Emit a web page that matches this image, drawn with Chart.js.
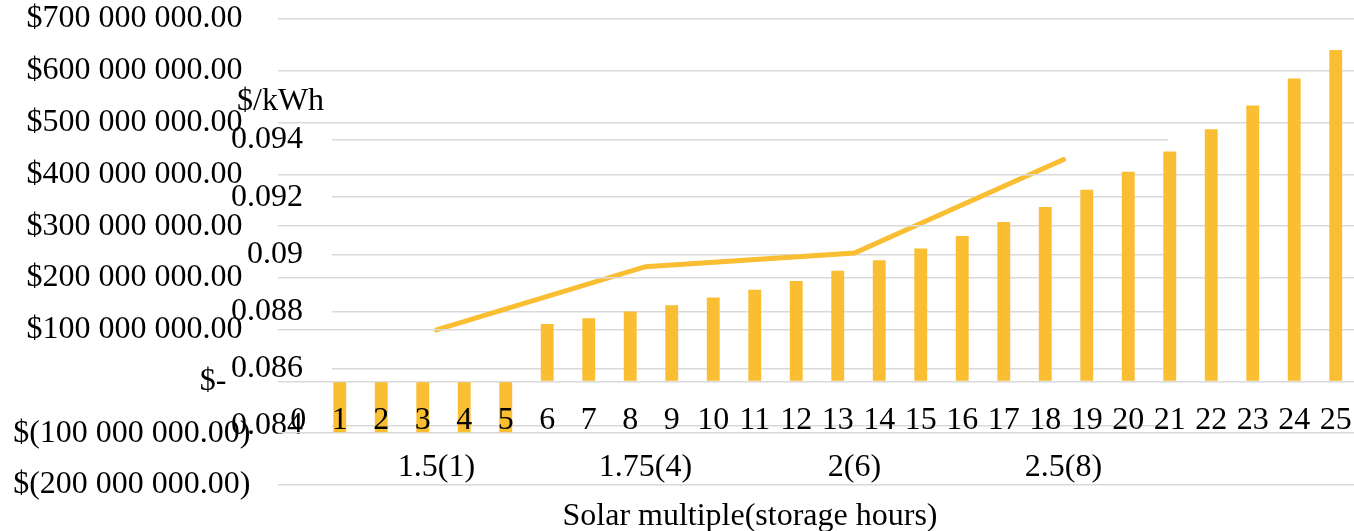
<!DOCTYPE html>
<html>
<head>
<meta charset="utf-8">
<title>Solar multiple chart</title>
<script src="https://cdn.jsdelivr.net/npm/chart.js@4.4.1/dist/chart.umd.min.js"></script>
<style>
  html, body { margin: 0; padding: 0; background: #ffffff; overflow: hidden; }
  #wrap { position: relative; width: 1354px; height: 531px; overflow: hidden; }
  #wrap canvas { position: absolute; left: 0; top: 0; }
</style>
</head>
<body>
<div id="wrap">
  <canvas id="lcoeChart" width="1354" height="540"></canvas>
  <canvas id="costChart" width="1360" height="531"></canvas>
</div>
<script>
// bar chart data (cost, $)
const caseLabels = ['0','1','2','3','4','5','6','7','8','9','10','11','12','13','14','15','16','17','18','19','20','21','22','23','24','25'];
const costValues = [null, -98e6, -98e6, -98e6, -98e6, -98e6,
  111e6, 122e6, 135e6, 147e6, 162e6, 177e6, 194e6, 214e6, 234e6, 257e6,
  281e6, 308e6, 337e6, 370e6, 405e6, 444e6, 487e6, 533e6, 585e6, 640e6];

// line chart data ($/kWh)
const smLabels = ['1.5(1)', '1.75(4)', '2(6)', '2.5(8)'];
const lcoeValues = [0.08736, 0.08957, 0.09005, 0.09332];

const gold = '#f9be32';
const gridGray = '#d9d9d9';
const serif = "'Liberation Serif', 'Times New Roman', serif";
const fontSize = 32;

// $700 000 000.00 / $- / $(100 000 000.00)
function money(v) {
  if (v === 0) return '$-   ';
  let s = Math.abs(v).toFixed(2).split('.');
  let intPart = s[0].replace(/\B(?=(\d{3})+(?!\d))/g, ' ');
  if (v < 0) return '$(' + intPart + '.' + s[1] + ')';
  return '$' + intPart + '.' + s[1] + ' ';
}

// chart.js adds label overflow + tick padding around the plot, we place it ourselves
function noScalePadding(scale) {
  scale.paddingTop = 0;
  scale.paddingBottom = 0;
  scale.paddingLeft = 0;
  scale.paddingRight = 0;
}

// "$/kWh" written above the second value axis
const unitLabel = {
  id: 'unitLabel',
  afterDraw(chart) {
    const ctx = chart.ctx;
    ctx.save();
    ctx.font = fontSize + 'px ' + serif;
    ctx.fillStyle = '#000';
    ctx.textAlign = 'left';
    ctx.textBaseline = 'middle';
    ctx.fillText('$/kWh', chart.chartArea.left - 95, chart.chartArea.top - 38);
    ctx.restore();
  }
};

Chart.defaults.font.family = serif;
Chart.defaults.font.size = fontSize;
Chart.defaults.color = '#000';

// back layer: levelized cost line
new Chart(document.getElementById('lcoeChart'), {
  type: 'line',
  data: {
    labels: smLabels,
    datasets: [{
      data: lcoeValues,
      borderColor: gold,
      borderWidth: 5,
      borderCapStyle: 'round',
      pointRadius: 0,
      tension: 0
    }]
  },
  options: {
    responsive: false,
    animation: false,
    devicePixelRatio: 1,
    layout: { padding: { top: 140, right: 186, bottom: 0, left: 0 } },
    plugins: { legend: { display: false }, tooltip: { enabled: false } },
    scales: {
      x: {
        offset: true,
        grid: { display: false },
        border: { display: false },
        ticks: { padding: 14, maxRotation: 0, autoSkip: false },
        title: { display: true, text: 'Solar multiple(storage hours)', padding: { top: 0, bottom: 4 } },
        afterFit(scale) { scale.height = 114; noScalePadding(scale); }
      },
      y: {
        min: 0.084,
        max: 0.094,
        ticks: {
          stepSize: 0.002,
          padding: 29,
          callback: v => String(Number(v.toFixed(3)))
        },
        grid: { color: gridGray, lineWidth: 1.5, drawTicks: false },
        border: { display: false },
        afterFit(scale) { scale.width = 332; noScalePadding(scale); }
      }
    }
  },
  plugins: [unitLabel]
});

// front layer: cost bars
new Chart(document.getElementById('costChart'), {
  type: 'bar',
  data: {
    labels: caseLabels,
    datasets: [{
      data: costValues,
      backgroundColor: gold,
      barPercentage: 0.31,
      categoryPercentage: 1
    }]
  },
  options: {
    responsive: false,
    animation: false,
    devicePixelRatio: 1,
    layout: { padding: { top: 19, right: 3.5, bottom: 46, left: 0 } },
    plugins: { legend: { display: false }, tooltip: { enabled: false } },
    scales: {
      x: {
        position: { y: 0 },
        grid: { display: false },
        border: { display: false },
        // z: 1 -> case numbers drawn on top of the negative bars
        ticks: { z: 1, padding: 12, maxRotation: 0, minRotation: 0, autoSkip: false },
        afterFit(scale) { noScalePadding(scale); }
      },
      y: {
        min: -200e6,
        max: 700e6,
        ticks: { stepSize: 100e6, padding: 27, callback: v => money(v) },
        grid: { color: gridGray, lineWidth: 1.5, drawTicks: false },
        border: { display: false },
        afterFit(scale) { scale.width = 277.5; noScalePadding(scale); }
      }
    }
  }
});
</script>
</body>
</html>
